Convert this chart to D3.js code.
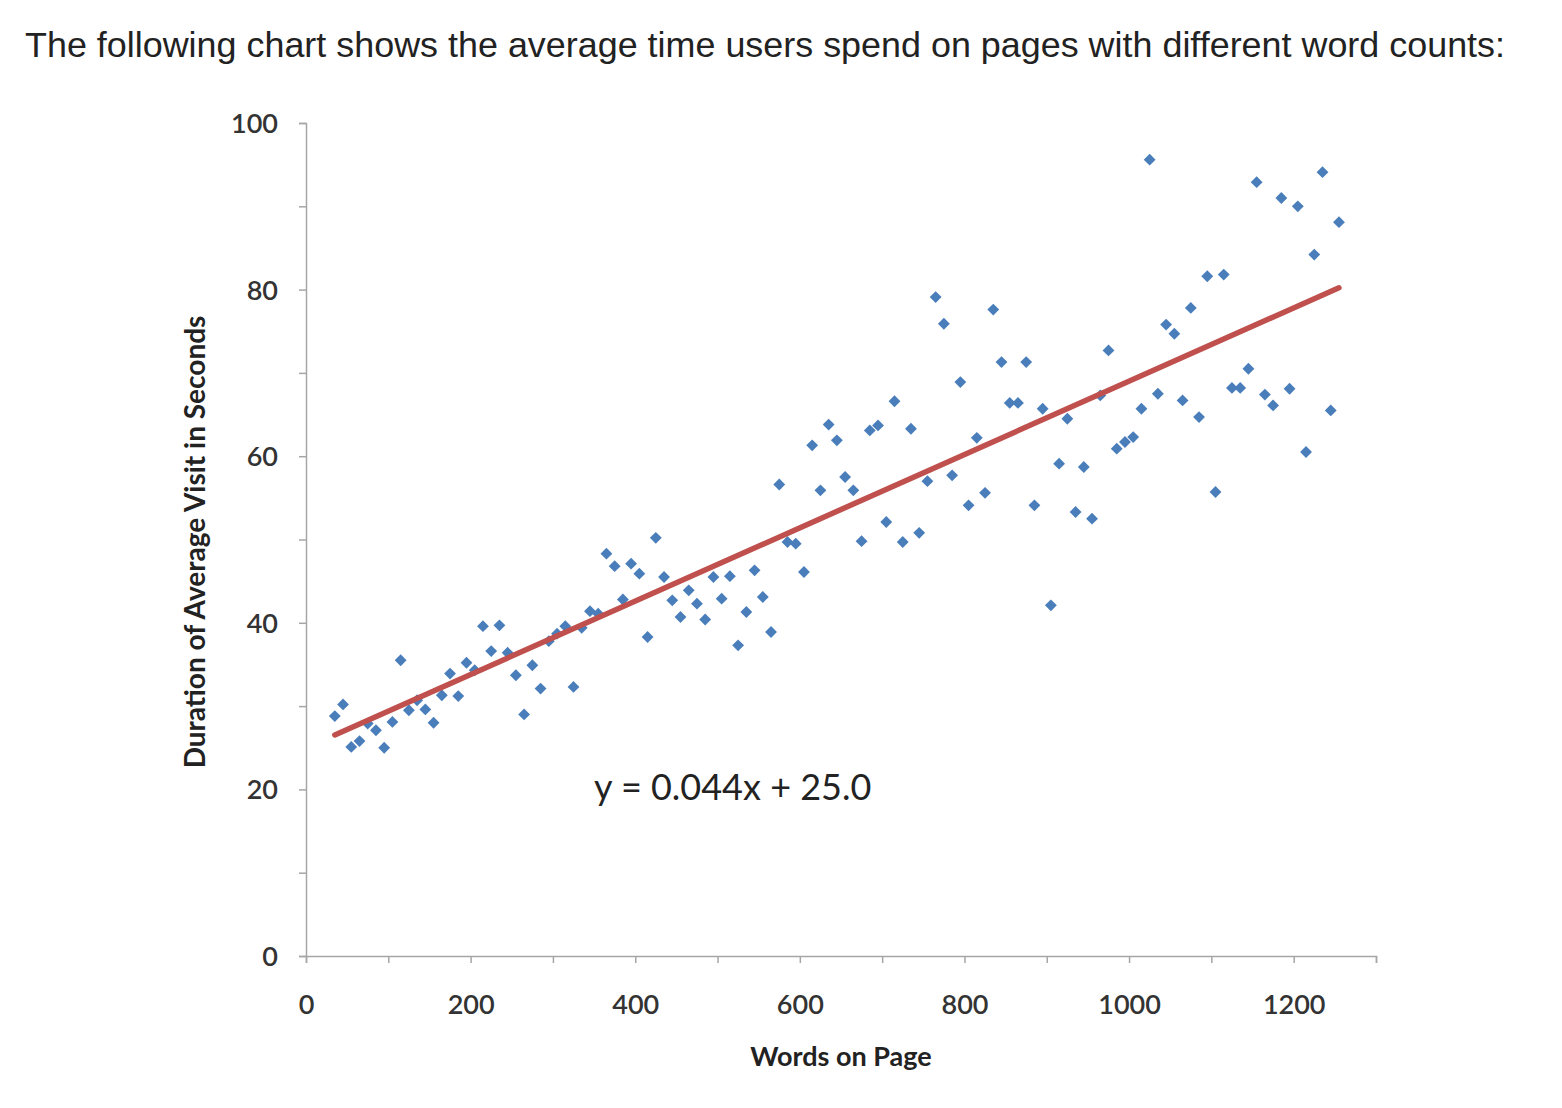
<!DOCTYPE html>
<html>
<head>
<meta charset="utf-8">
<script src="https://cdn.jsdelivr.net/npm/d3@7"></script>
<style>
  html, body { margin: 0; padding: 0; background: #fff; }
  svg { display: block; }
</style>
</head>
<body>
<svg id="chart" width="1562" height="1108"></svg>
<script>
const titleText = "The following chart shows the average time users spend on pages with different word counts:";
const xTitle = "Words on Page";
const yTitle = "Duration of Average Visit in Seconds";
const equationText = "y = 0.044x + 25.0";
const slope = 0.044, intercept = 25.0;

const words = [35,45,55,65,75,85,95,105,115,125,135,145,155,165,175,185,195,205,215,225,
  235,245,255,265,275,285,295,305,315,325,335,345,355,365,375,385,395,405,415,425,
  435,445,455,465,475,485,495,505,515,525,535,545,555,565,575,585,595,605,615,625,
  635,645,655,665,675,685,695,705,715,725,735,745,755,765,775,785,795,805,815,825,
  835,845,855,865,875,885,895,905,915,925,935,945,955,965,975,985,995,1005,1015,1025,
  1035,1045,1055,1065,1075,1085,1095,1105,1115,1125,1135,1145,1155,1165,1175,1185,1195,1205,1215,1225,
  1235,1245,1255];
const seconds = [28.8,30.2,25.1,25.8,27.9,27.1,25.0,28.1,35.5,29.5,30.7,29.6,28.0,31.3,33.9,31.2,35.2,34.3,39.6,36.6,
  39.7,36.4,33.7,29.0,34.9,32.1,37.8,38.7,39.6,32.3,39.4,41.4,41.1,48.3,46.8,42.8,47.1,45.9,38.3,50.2,
  45.5,42.7,40.7,43.9,42.3,40.4,45.5,42.9,45.6,37.3,41.3,46.3,43.1,38.9,56.6,49.7,49.5,46.1,61.3,55.9,
  63.8,61.9,57.5,55.9,49.8,63.1,63.7,52.1,66.6,49.7,63.3,50.8,57.0,79.1,75.9,57.7,68.9,54.1,62.2,55.6,
  77.6,71.3,66.4,66.4,71.3,54.1,65.7,42.1,59.1,64.5,53.3,58.7,52.5,67.3,72.7,60.9,61.7,62.3,65.7,95.6,
  67.5,75.8,74.7,66.7,77.8,64.7,81.6,55.7,81.8,68.2,68.2,70.5,92.9,67.4,66.1,91.0,68.1,90.0,60.5,84.2,
  94.1,65.5,88.1];
const trendRange = [35, 1255];
const xTickValues = [0,100,200,300,400,500,600,700,800,900,1000,1100,1200,1300];
const xTickLabels = ["0","","200","","400","","600","","800","","1000","","1200",""];
const yTickValues = [0,10,20,30,40,50,60,70,80,90,100];
const yTickLabels = ["0","","20","","40","","60","","80","","100"];

const data = words.map((w, i) => ({ x: w, y: seconds[i] }));

const svg = d3.select("#chart");
const axisColor = "#a6a6a6";
const labelFont = "Lato, 'Open Sans', sans-serif";

svg.append("text")
  .attr("x", 25).attr("y", 57)
  .attr("font-family", "'Liberation Sans', Arial, Helvetica, sans-serif")
  .attr("font-size", 35)
  .attr("textLength", 1480)
  .attr("lengthAdjust", "spacingAndGlyphs")
  .attr("fill", "#222")
  .text(titleText);

const x = d3.scaleLinear().domain([0, 1300]).range([306, 1376]);
const y = d3.scaleLinear().domain([0, 100]).range([956, 123]);

// Y axis
const yAxis = svg.append("g")
  .attr("transform", `translate(${x(0)},0)`)
  .call(d3.axisLeft(y).tickValues(yTickValues).tickSize(7).tickPadding(21)
    .tickFormat((d, i) => yTickLabels[i]));
yAxis.select(".domain").attr("stroke", axisColor).attr("stroke-width", 1.5);
yAxis.selectAll(".tick line").attr("stroke", axisColor).attr("stroke-width", 1.5);
yAxis.selectAll(".tick text")
  .attr("font-family", labelFont).attr("font-size", 27).attr("font-weight", 600)
  .attr("fill", "#333").attr("dy", "0.35em");

// X axis
const xAxis = svg.append("g")
  .attr("transform", `translate(0,${y(0)})`)
  .call(d3.axisBottom(x).tickValues(xTickValues).tickSize(7).tickPadding(32)
    .tickFormat((d, i) => xTickLabels[i]));
xAxis.select(".domain").attr("stroke", axisColor).attr("stroke-width", 1.5);
xAxis.selectAll(".tick line").attr("stroke", axisColor).attr("stroke-width", 1.5);
xAxis.selectAll(".tick text")
  .attr("font-family", labelFont).attr("font-size", 27).attr("font-weight", 600)
  .attr("fill", "#333");

// Axis titles
svg.append("text")
  .attr("x", 841).attr("y", 1066)
  .attr("text-anchor", "middle")
  .attr("font-family", labelFont).attr("font-weight", "bold")
  .attr("font-size", 27).attr("fill", "#222")
  .text(xTitle);

svg.append("text")
  .attr("transform", "translate(205,542) rotate(-90)")
  .attr("text-anchor", "middle")
  .attr("font-family", labelFont).attr("font-weight", "bold")
  .attr("font-size", 28).attr("fill", "#222")
  .text(yTitle);

// Points
const diamond = d3.symbol().type(d3.symbolSquare).size(70);
svg.append("g").selectAll("path")
  .data(data)
  .join("path")
  .attr("d", diamond)
  .attr("transform", d => `translate(${x(d.x)},${y(d.y)}) rotate(45)`)
  .attr("fill", "#4a7ebb");

// Trend line
const line = d3.line().x(d => x(d)).y(d => y(slope * d + intercept));
svg.append("path")
  .datum(trendRange)
  .attr("d", line)
  .attr("fill", "none")
  .attr("stroke", "#c0504d")
  .attr("stroke-width", 5.5)
  .attr("stroke-linecap", "round");

// Equation
svg.append("text")
  .attr("x", 594).attr("y", 800)
  .attr("font-family", labelFont)
  .attr("font-size", 36).attr("fill", "#222")
  .text(equationText);
</script>
</body>
</html>
